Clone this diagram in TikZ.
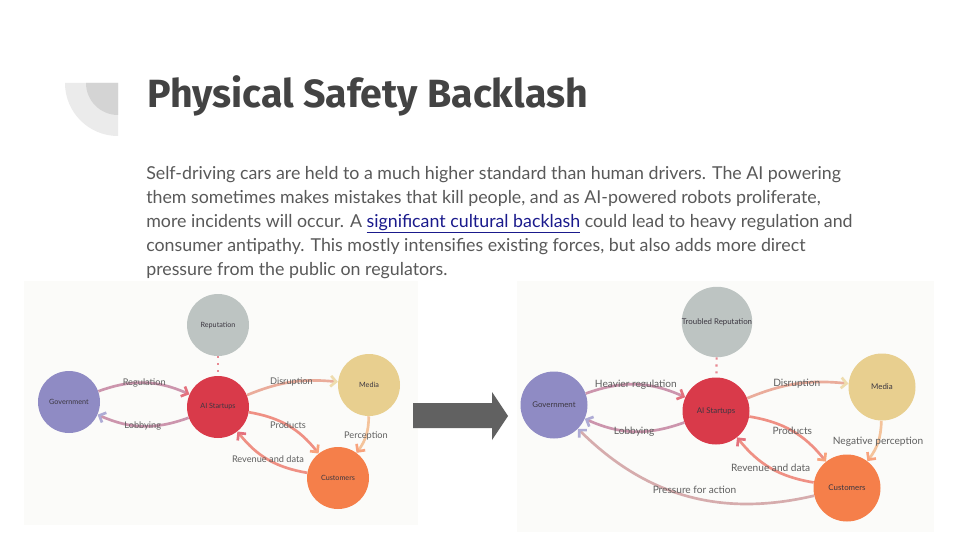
\documentclass[tikz,border=0pt]{standalone}
\usepackage{fontspec}
\setmainfont{Lato}
\newfontfamily\headfont{Fira Sans}
\usetikzlibrary{arrows.meta}

\definecolor{govC}{RGB}{143,139,196}
\definecolor{aiC}{RGB}{217,58,74}
\definecolor{mediaC}{RGB}{232,207,143}
\definecolor{custC}{RGB}{245,127,74}
\definecolor{repC}{RGB}{189,196,194}
\definecolor{panelC}{RGB}{251,251,249}
\definecolor{nodeT}{RGB}{60,55,65}
\definecolor{labelC}{RGB}{95,95,95}
\definecolor{headC}{RGB}{67,67,67}
\definecolor{bodyC}{RGB}{89,89,89}
\definecolor{linkC}{RGB}{26,26,140}
\definecolor{bigArrowC}{RGB}{97,97,97}

\begin{document}
\begin{tikzpicture}[x=0.75pt, y=0.75pt,
    agent0/.style={circle, minimum size=46.5pt, inner sep=0pt, text=nodeT, font=\fontsize{5.4}{6}\selectfont},
    agent1/.style={circle, minimum size=50.25pt, inner sep=0pt, text=nodeT, font=\fontsize{5.9}{7}\selectfont},
    flow/.style 2 args={line width=2pt, draw=#1!50!#2!68!white, -{Straight Barb[length=4pt, width=8pt, color=#2!72!white]}},
    tag0/.style={text=labelC, font=\fontsize{6.9}{8}\selectfont},
    tag1/.style={text=labelC, font=\fontsize{7.6}{9}\selectfont},
    rumour/.style={line width=1.6pt, dash pattern=on 1.6pt off 3.6pt, draw=aiC!60!white}
]
\useasboundingbox (0,0) rectangle (960,540);
\fill[white] (0,0) rectangle (960,540);

\fill[black!8] (118,457) -- (65,457) arc[start angle=180, end angle=270, radius=53] -- cycle;
\fill[black!17] (118,457) -- (86,457) arc[start angle=180, end angle=270, radius=32] -- cycle;

\node[anchor=base west, inner sep=0pt, text=headC, font=\headfont\bfseries\fontsize{29.5}{34}\selectfont] (title) at (147,432) {Physical Safety Backlash};
\node[anchor=north west, inner sep=0pt, align=left, text=bodyC, font=\fontsize{13.35}{18}\selectfont] (body) at (146,374)
  {Self-driving cars are held to a much higher standard than human drivers. The AI powering\\
   them sometimes makes mistakes that kill people, and as AI-powered robots proliferate,\\
   more incidents will occur. A \textcolor{linkC}{\underline{significant cultural backlash}} could lead to heavy regulation and\\
   consumer antipathy. This mostly intensifies existing forces, but also adds more direct\\
   pressure from the public on regulators.};

\fill[panelC] (24,15) rectangle (418,259);
\fill[panelC] (517,8) rectangle (934,259);
\fill[bigArrowC] (413,112) -- (492,112) -- (492,100) -- (508,124) -- (492,148) -- (492,137) -- (413,137) -- cycle;

\node[agent0, fill=repC] (Rep0) at (218,215) {Reputation};
\node[agent0, fill=govC] (Gov0) at (69,138) {Government};
\node[agent0, fill=aiC] (AI0) at (218,133) {AI Startups};
\node[agent0, fill=mediaC] (Media0) at (369,155) {Media};
\node[agent0, fill=custC] (Cust0) at (338,62) {Customers};

\draw[rumour] (Rep0) -- (AI0);
\draw[flow={govC}{aiC}] (Gov0) to[bend left=22] node[tag0] {Regulation} (AI0);
\draw[flow={aiC}{govC}] (AI0) to[bend left=22] node[tag0] {Lobbying} (Gov0);
\draw[flow={aiC}{mediaC}] (AI0) to[bend left=14] node[tag0] {Disruption} (Media0);
\draw[flow={aiC}{custC}] (AI0) to[bend left=21] node[tag0] {Products} (Cust0);
\draw[flow={custC}{aiC}] (Cust0) to[bend left=21] node[tag0] {Revenue and data} (AI0);
\draw[flow={mediaC}{custC}] (Media0) to[bend left=18] node[tag0] {Perception} (Cust0);

\node[agent1, fill=repC] (Rep1) at (717,218) {Troubled Reputation};
\node[agent1, fill=govC] (Gov1) at (554,135) {Government};
\node[agent1, fill=aiC] (AI1) at (716,129) {AI Startups};
\node[agent1, fill=mediaC] (Media1) at (882,153) {Media};
\node[agent1, fill=custC] (Cust1) at (847,52) {Customers};

\draw[rumour] (Rep1) -- (AI1);
\draw[flow={govC}{aiC}] (Gov1) to[bend left=22] node[tag1] {Heavier regulation} (AI1);
\draw[flow={aiC}{govC}] (AI1) to[bend left=22] node[tag1] {Lobbying} (Gov1);
\draw[flow={aiC}{mediaC}] (AI1) to[bend left=14] node[tag1] {Disruption} (Media1);
\draw[flow={aiC}{custC}] (AI1) to[bend left=21] node[tag1] {Products} (Cust1);
\draw[flow={custC}{aiC}] (Cust1) to[bend left=21] node[tag1] {Revenue and data} (AI1);
\draw[flow={mediaC}{custC}] (Media1) to[bend left=18] node[tag1] {Negative perception} (Cust1);
\draw[flow={custC}{govC}] (Cust1) to[bend left=29] node[tag1, xshift=6pt, yshift=4.5pt] {Pressure for action} (Gov1);
\end{tikzpicture}
\end{document}
